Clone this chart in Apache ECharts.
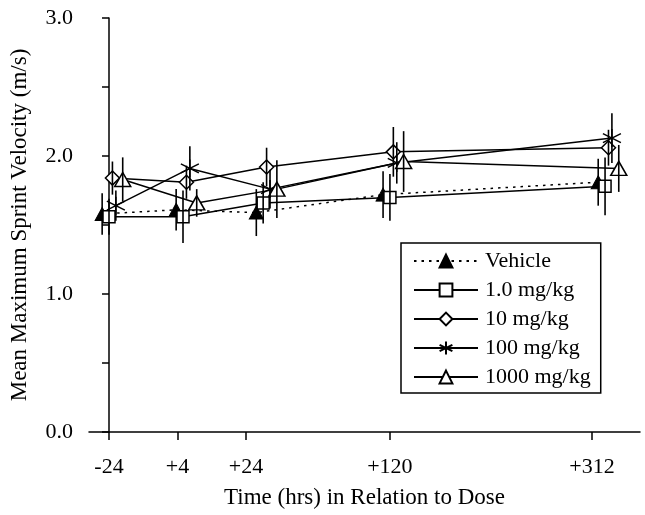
<!DOCTYPE html>
<html>
<head>
<meta charset="utf-8">
<script src="https://cdn.jsdelivr.net/npm/echarts@6/dist/echarts.min.js"></script>
<style>
  html, body { margin: 0; padding: 0; background: #fff; }
  #chart { width: 645px; height: 515px; }
</style>
</head>
<body>
<div id="chart"></div>
<script>
// x axis: time points, drawn at uneven positions as in the figure
var tickLabels = ['-24', '+4', '+24', '+120', '+312'];
var tickPos = [0, 1, 2, 4.1, 7.05];
// points of each group are spread sideways a little
var groupX = [-0.10, 0.98, 2.15, 4.00, 7.14];
var seriesShift = [0, 0.1, 0.15, 0.2, 0.3];

var seriesNames = ['Vehicle', '1.0 mg/kg', '10 mg/kg', '100 mg/kg', '1000 mg/kg'];
var vehicle  = [1.58, 1.61, 1.59, 1.72, 1.81];
var dose1    = [1.56, 1.56, 1.66, 1.70, 1.78];
var dose10   = [1.84, 1.81, 1.92, 2.03, 2.06];
var dose100  = [1.64, 1.91, 1.76, 1.95, 2.13];
var dose1000 = [1.83, 1.66, 1.76, 1.96, 1.91];

var vehicleErr  = [0.15, 0.15, 0.17, 0.17, 0.17];
var dose1Err    = [0.13, 0.19, 0.15, 0.17, 0.21];
var dose10Err   = [0.12, 0.12, 0.14, 0.18, 0.13];
var dose100Err  = [0.11, 0.16, 0.14, 0.15, 0.18];
var dose1000Err = [0.16, 0.10, 0.21, 0.22, 0.17];

var FONT = "'Liberation Serif', 'Times New Roman', serif";

var allVals = [vehicle, dose1, dose10, dose100, dose1000];
var allErr = [vehicleErr, dose1Err, dose10Err, dose100Err, dose1000Err];
var symbols = [
  'triangle', 'rect', 'diamond',
  'path://M10,0 L10,20 M1.34,5 L18.66,15 M1.34,15 L18.66,5',
  'triangle'
];
var symSizes = [[14, 13], 12, 14, 18, [16, 14]];

var chart = echarts.init(document.getElementById('chart'));

var series = [];
var errData = [];
for (var s = 0; s < 5; s++) {
  var pts = [];
  for (var i = 0; i < 5; i++) {
    var x = groupX[i] + seriesShift[s];
    pts.push([x, allVals[s][i]]);
    errData.push([x, allVals[s][i], allErr[s][i]]);
  }
  series.push({
    name: seriesNames[s],
    type: 'line',
    data: pts,
    symbol: symbols[s],
    symbolSize: symSizes[s],
    showAllSymbol: true,
    z: 3,
    lineStyle: { color: '#000', width: 1.5, type: s === 0 ? [2.5, 5] : 'solid' },
    itemStyle: s === 0
      ? { color: '#000', borderColor: '#000', borderWidth: 1 }
      : { color: s === 3 ? 'rgba(0,0,0,0)' : '#fff', borderColor: '#000', borderWidth: 1.5 },
    emphasis: { disabled: true }
  });
}

// vertical error bars, no caps
series.push({
  name: 'err',
  type: 'custom',
  z: 5,
  data: errData,
  encode: { x: 0, y: 1 },
  renderItem: function (params, api) {
    var top = api.coord([api.value(0), api.value(1) + api.value(2)]);
    var bot = api.coord([api.value(0), api.value(1) - api.value(2)]);
    return {
      type: 'line',
      shape: { x1: top[0], y1: top[1], x2: bot[0], y2: bot[1] },
      style: { stroke: '#000', lineWidth: 1.6 }
    };
  }
});

chart.setOption({
  animation: false,
  backgroundColor: '#fff',
  textStyle: { fontFamily: FONT, color: '#000' },
  grid: { left: 89, right: 5, top: 18, bottom: 83 },
  xAxis: {
    type: 'value',
    min: -0.292,
    max: 7.75,
    name: 'Time (hrs) in Relation to Dose',
    nameLocation: 'middle',
    nameGap: 54,
    nameTextStyle: { fontFamily: FONT, fontSize: 23, color: '#000' },
    axisLine: { lineStyle: { color: '#000', width: 1.5 } },
    axisTick: { customValues: tickPos, length: 8, lineStyle: { color: '#000', width: 1.5 } },
    axisLabel: {
      customValues: tickPos,
      margin: 24,
      fontFamily: FONT, fontSize: 22, color: '#000',
      formatter: function (v) {
        for (var k = 0; k < tickPos.length; k++) {
          if (Math.abs(tickPos[k] - v) < 1e-6) return tickLabels[k];
        }
        return '';
      }
    },
    splitLine: { show: false }
  },
  yAxis: {
    type: 'value',
    min: 0,
    max: 3,
    interval: 0.5,
    name: 'Mean Maximum Sprint Velocity (m/s)',
    nameLocation: 'middle',
    nameGap: 58,
    nameTextStyle: { fontFamily: FONT, fontSize: 23, color: '#000' },
    axisLine: { show: true, lineStyle: { color: '#000', width: 1.5 } },
    axisTick: { show: true, length: 7, lineStyle: { color: '#000', width: 1.5 } },
    axisLabel: {
      margin: 16,
      fontFamily: FONT, fontSize: 22, color: '#000',
      formatter: function (v) { return v % 1 === 0 ? v.toFixed(1) : ''; }
    },
    splitLine: { show: false }
  },
  legend: {
    data: seriesNames,
    orient: 'vertical',
    left: 401,
    top: 243,
    padding: [7, 10, 5, 12],
    itemWidth: 64,
    itemHeight: 16,
    itemGap: 7,
    borderColor: '#000',
    borderWidth: 1.5,
    backgroundColor: '#fff',
    textStyle: { fontFamily: FONT, fontSize: 22, color: '#000', padding: [0, 0, 0, 2] }
  },
  series: series
});
</script>
</body>
</html>
